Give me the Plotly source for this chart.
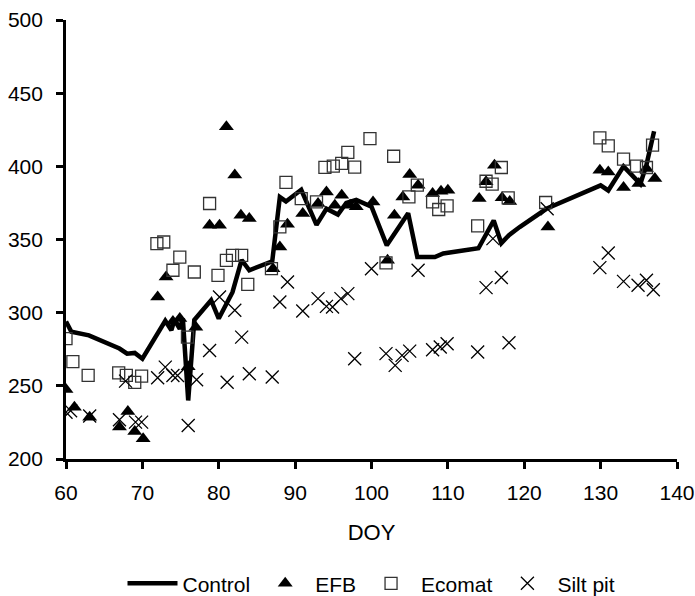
import plotly.graph_objects as go

# Control (line)
control_x = [60, 60.7, 63, 65, 67, 68, 69, 70, 71.6, 73, 73.8, 74.2, 74.9, 75.3, 76, 76.8, 79, 80,
             81.8, 83, 84, 87, 88, 88.8, 90.8, 92.8, 94.1, 95.6, 96.7, 98, 100, 102, 104.8, 106,
             108.3, 109.4, 114, 116, 117, 118, 119.4, 122.9, 130, 131, 133, 135.2, 136, 137]
control_y = [294, 287, 284.5, 280, 275.5, 272, 272.5, 268.5, 283, 294.5, 288, 295, 289, 296, 240, 295, 308.5, 296,
             314, 336, 329, 335, 379, 376, 384, 360, 371, 367, 375, 377, 372.5, 346, 368, 338,
             338, 340.5, 344, 363, 347.5, 353, 358.5, 371, 387, 383.5, 400, 388, 401, 424]

# EFB (filled triangles)
efb_x = [60, 61.1, 63.1, 67, 68.1, 69, 70.1, 72, 73.1, 74, 74.9, 76, 77, 78.8, 80.1, 81, 82.1, 82.9,
         84, 87.1, 88, 89, 91, 93, 94.1, 95.2, 96.1, 97.2, 98, 100.2, 102.1, 103, 104.1, 105, 106.1,
         108, 109.1, 110, 114.1, 115, 116.1, 117.1, 118.1, 123.1, 129.9, 131, 133, 135, 136, 137.1]
efb_y = [247.5, 235.4, 228.6, 221.8, 232.5, 218.8, 213.8, 310.7, 324.4, 294, 296, 263, 290, 359.7, 359.7, 427, 394, 366.6,
         364.3, 330, 344.9, 360.4, 367.7, 374.6, 382.5, 373.4, 380.3, 373.4, 372.3, 375.7, 335.8, 366.6, 379.1, 394.4, 387.1,
         381.4, 383, 383.7, 378, 389.4, 400.8, 378.5, 376, 358.6, 397.4, 396.2, 385.5, 388.3, 398.5, 391.7]

# Ecomat (open squares)
eco_x = [60, 60.9, 62.9, 66.9, 67.9, 69, 69.9, 71.9, 72.8, 74, 74.9, 75.9, 76.8, 78.8, 79.9, 81, 81.8,
         83, 83.8, 86.9, 88, 88.8, 90.8, 92.8, 93.9, 95, 96.1, 96.9, 97.8, 99.8, 101.9, 102.9, 104.9,
         106, 108, 108.8, 109.9, 113.9, 115, 115.8, 117, 117.9, 122.8, 129.9, 131, 133, 134.7, 136, 136.8]
eco_y = [282.2, 266.5, 257.1, 258.8, 257.1, 252.3, 256.6, 347.2, 348.3, 329, 338, 283.3, 327.8, 374.6, 325.5, 335.8, 339.2,
         339.2, 319.4, 330.1, 358.6, 389, 378, 375.7, 399.3, 400.1, 402, 409.5, 399.5, 419, 334, 406.9, 379.1,
         387.1, 375.7, 370.5, 373, 359.3, 389.8, 387.8, 399.2, 378.4, 375.3, 419.5, 414, 404.9, 400.1, 399.2, 414.5]

# Silt pit (crosses)
silt_x = [60, 60.6, 63.1, 67, 67.8, 69.1, 69.9, 72, 73, 74, 74.6, 76, 77.1, 78.8, 80.1, 81.1, 82.1, 83,
          84, 87, 88, 89, 91, 93, 94.1, 94.9, 96, 96.9, 97.8, 100, 101.9, 103.1, 104, 105, 106.1, 108,
          109, 109.9, 113.9, 115, 115.9, 117, 118, 123, 129.9, 131, 133, 134.9, 136, 136.9]
silt_y = [232, 233, 229.4, 226.8, 253.2, 225.2, 225.2, 255.5, 262.8, 257.1, 257.1, 222.9, 254.2, 274.2, 310.7, 252.5, 301.6, 283.3,
          258.3, 256, 307.3, 321, 301.1, 309.6, 304.3, 303.9, 309.6, 313, 268.5, 330, 272, 264, 270.8, 273.7, 329, 274.7,
          276.5, 278.8, 273.1, 317.1, 350.6, 324, 279.5, 371, 330.8, 340.8, 321.4, 318.7, 322.1, 315.7]

x_ticks = [60, 70, 80, 90, 100, 110, 120, 130, 140]
y_ticks = [200, 250, 300, 350, 400, 450, 500]

FONT = "Liberation Sans, Arial, sans-serif"

fig = go.Figure()
fig.add_trace(go.Scatter(x=control_x, y=control_y, mode="lines", name="Control",
                         line=dict(color="black", width=4.5)))
fig.add_trace(go.Scatter(x=efb_x, y=efb_y, mode="markers", name="EFB",
                         marker=dict(symbol="triangle-up", size=13, color="black")))
fig.add_trace(go.Scatter(x=eco_x, y=eco_y, mode="markers", name="Ecomat",
                         marker=dict(symbol="square-open", size=12, color="#333333",
                                     line=dict(width=1.3, color="#333333"))))
fig.add_trace(go.Scatter(x=silt_x, y=silt_y, mode="markers", name="Silt pit",
                         marker=dict(symbol="x-thin", size=13, color="black",
                                     line=dict(width=1.3, color="black"))))

fig.update_layout(
    width=695, height=596,
    margin=dict(l=66, r=18, t=20, b=137, autoexpand=False),
    paper_bgcolor="white", plot_bgcolor="white",
    font=dict(family=FONT, size=21, color="black"),
    showlegend=True,
    legend=dict(orientation="h", x=0.5, xanchor="center", y=-0.284, yanchor="middle",
                font=dict(size=21), itemwidth=50, traceorder="normal",
                bgcolor="rgba(0,0,0,0)"),
    xaxis=dict(range=[60, 140], tickvals=x_ticks, ticktext=[str(v) for v in x_ticks],
               showgrid=False, zeroline=False, showline=True, linecolor="black", linewidth=2.7,
               ticks="outside", ticklen=7, tickwidth=2.7, tickcolor="black",
               tickfont=dict(size=21, family=FONT), ticklabelstandoff=6,
               title=dict(text="DOY", font=dict(size=22, family=FONT), standoff=22)),
    yaxis=dict(range=[200, 500], tickvals=y_ticks, ticktext=[str(v) for v in y_ticks],
               showgrid=False, zeroline=False, showline=True, linecolor="black", linewidth=2.7,
               ticks="outside", ticklen=7, tickwidth=2.7, tickcolor="black",
               tickfont=dict(size=21, family=FONT), ticklabelstandoff=9),
)

fig.write_html("out.html", config={"displayModeBar": False},
               post_script="document.body.style.margin='0';document.body.style.overflow='hidden';")
